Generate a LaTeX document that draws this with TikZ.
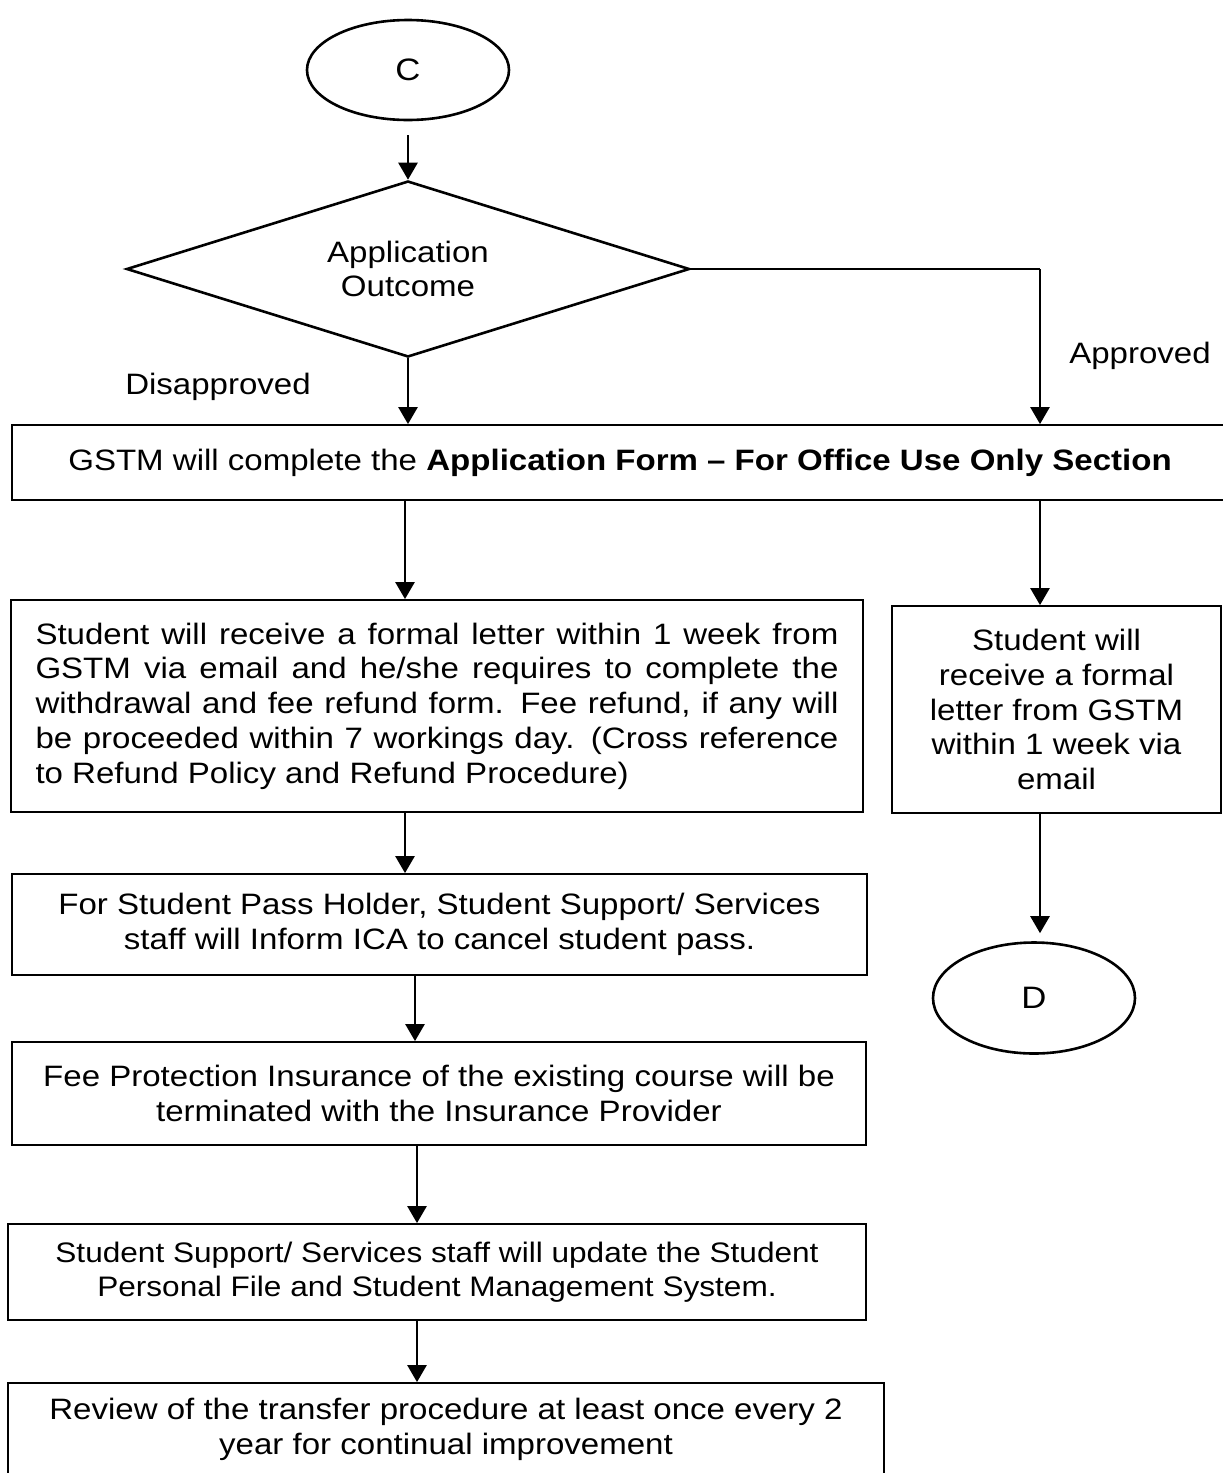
\documentclass[tikz,border=0pt]{standalone}
\usepackage{fontspec}
\setmainfont{Liberation Sans}[FakeStretch=1.12]
\usetikzlibrary{shapes.geometric,arrows.meta}

\begin{document}
\begin{tikzpicture}[x=1pt,y=-1pt,
  every node/.style={font=\fontsize{29.5}{34.7}\selectfont},
  stepbox/.style={draw, line width=1.8pt, rectangle, inner sep=0pt, align=center},
  terminal/.style={draw, ellipse, line width=2.6pt, minimum width=202pt,
    minimum height=100pt, inner sep=0pt, font=\fontsize{31}{36}\selectfont},
  decision/.style={draw, diamond, aspect=3.2, line width=2.6pt,
    minimum width=563pt, minimum height=176pt, inner sep=0pt, align=center},
  arr/.style={line width=2.6pt, -{Triangle[width=19pt,length=17pt]}},
  thinline/.style={line width=1.4pt},
  tag/.style={inner sep=0pt}
]
\useasboundingbox (0,0) rectangle (1223,1473);

% columns used by the vertical connectors
\coordinate (colL) at (405,0);
\coordinate (colR) at (1040,0);
\coordinate (colM) at (415,0);
\coordinate (colN) at (417,0);

% nodes
\node[terminal] (c) at (408,70) {C};
\node[decision] (dec) at (408,269) {Application\\Outcome};
\node[stepbox, minimum width=1216pt, minimum height=75pt] (form) at (620,462.5)
  {GSTM will complete the \textbf{Application Form – For Office Use Only Section}};

\node[stepbox, minimum width=852pt, minimum height=212pt, text width=803pt,
  align=justify] (reject) at (437,706)
  {Student will receive a formal letter within 1 week from\linebreak
   GSTM via email and he/she requires to complete the\linebreak
   withdrawal and fee refund form. Fee refund, if any will\linebreak
   be proceeded within 7 workings day.  (Cross reference\linebreak
   to Refund Policy and Refund Procedure)};

\node[stepbox, minimum width=329pt, minimum height=207pt] (accept) at (1056.5,709.5)
  {Student will\\receive a formal\\letter from GSTM\\within 1 week via\\email};

\node[terminal, minimum height=111pt] (d) at (1034,998) {D};

\node[stepbox, minimum width=855pt, minimum height=101pt] (pass) at (439.5,924.5)
  {For Student Pass Holder, Student Support/ Services\\staff will Inform ICA to cancel student pass.};
\node[stepbox, minimum width=854pt, minimum height=103pt] (fee) at (439,1093.5)
  {Fee Protection Insurance of the existing course will be\\terminated with the Insurance Provider};
\node[stepbox, minimum width=858pt, minimum height=96pt,
  font=\fontsize{28.2}{33.5}\selectfont] (update) at (437,1272)
  {Student Support/ Services staff will update the Student\\Personal File and Student Management System.};
\node[stepbox, minimum width=876pt, minimum height=93pt] (review) at (446,1429.5)
  {Review of the transfer procedure at least once every 2\\year for continual improvement};

% branch labels
\node[tag] (disap) at (218,387) {Disapproved};
\node[tag] (appr) at (1140,356) {Approved};

% connectors
\draw[arr, shorten <=14pt] (c.south) -- (dec.north);
\draw[arr] (dec.south) -- (dec.south |- form.north);
\draw[thinline] (dec.east) -- (dec.east -| colR);
\draw[arr] (dec.east -| colR) -- (form.north -| colR);
\draw[arr] (form.south -| colL) -- (reject.north -| colL);
\draw[arr] (form.south -| colR) -- (accept.north -| colR);
\draw[arr] (reject.south -| colL) -- (pass.north -| colL);
\draw[arr, shorten >=8pt] (accept.south -| colR) -- (d.north -| colR);
\draw[arr] (pass.south -| colM) -- (fee.north -| colM);
\draw[arr] (fee.south -| colN) -- (update.north -| colN);
\draw[arr] (update.south -| colN) -- (review.north -| colN);
\end{tikzpicture}
\end{document}
